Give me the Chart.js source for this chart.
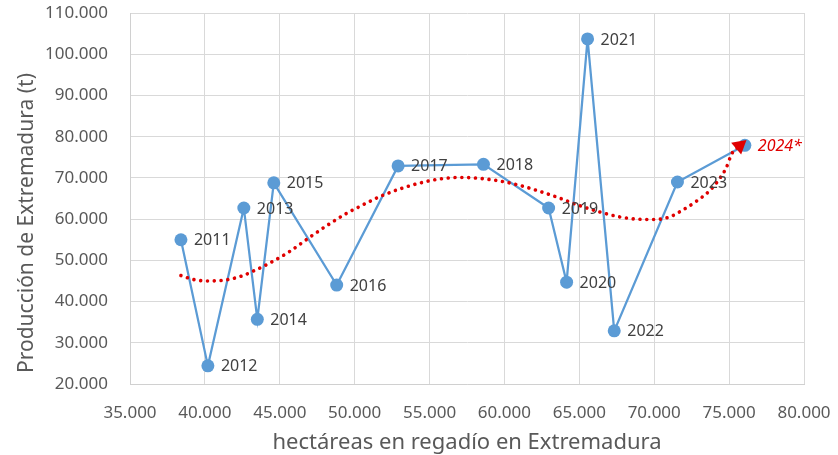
<!DOCTYPE html>
<html>
<head>
<meta charset="utf-8">
<script src="https://cdn.jsdelivr.net/npm/chart.js@4.4.1/dist/chart.umd.min.js"></script>
<style>
  html,body{margin:0;padding:0;background:#fff;}
  #wrap{width:838px;height:455px;}
</style>
</head>
<body>
<div id="wrap"><canvas id="chart" width="838" height="455"></canvas></div>
<script>
/* datos */
const years = ["2011","2012","2013","2014","2015","2016","2017","2018","2019","2020","2021","2022","2023","2024*"];
const hectareas = [38400,40200,42600,43500,44600,48800,52900,58600,62950,64150,65550,67330,71550,76050];
const produccion = [55000,24400,62700,35700,68800,44000,72900,73300,62700,44700,103700,32900,69000,77900];

/* línea de tendencia */
const tendX = [38400,39300,40300,41300,42300,43300,44300,45600,47000,48300,49600,50300,51700,53000,54300,55600,57000,58300,59600,61000,62300,63600,65000,66300,67600,68800,70000,71000,71900,72800,73700,74400,74800,75200,75700];
const tendY = [46300,45300,45000,45200,46000,47500,49300,52000,55600,58800,61700,63000,65500,67300,68700,69700,70100,69900,69300,68200,66800,65200,63300,61800,60600,60000,59900,60500,62200,64300,66900,70000,72400,76000,77800];

const xTicks = {min:35000, max:80000, step:5000};
const yTicks = {min:20000, max:110000, step:10000};

const tituloX = "hectáreas en regadío en Extremadura";
const tituloY = "Producción de Extremadura (t)";

const fmt = v => String(v).replace(/\B(?=(\d{3})+(?!\d))/g, ".");

const FONT = "'Noto Sans', 'Open Sans', sans-serif";
const GRIS = "#595959";

/* etiquetas de los puntos + título del eje Y */
const etiquetas = {
  id:"etiquetas",
  afterDatasetsDraw(chart){
    const meta = chart.getDatasetMeta(1);
    const c = chart.ctx;
    c.save();
    c.textBaseline = "middle";
    c.textAlign = "left";
    meta.data.forEach((p,i)=>{
      const ult = i===years.length-1;
      c.font = (ult ? "italic " : "") + "16px " + FONT;
      c.fillStyle = ult ? "#e00000" : "#404040";
      c.fillText(years[i], p.x+13, p.y+1);
    });
    c.restore();

    // título Y, empieza abajo como en Excel
    c.save();
    c.translate(27, 373);
    c.rotate(-Math.PI/2);
    c.font = "21px " + FONT;
    c.fillStyle = GRIS;
    c.textAlign = "left";
    c.textBaseline = "middle";
    c.fillText(tituloY, 0, 0);
    c.restore();
  }
};

const ultimo = tendX.length-1;

new Chart(document.getElementById("chart"),{
  type:"scatter",
  data:{
    datasets:[
      {
        label:"tendencia",
        data: tendX.map((x,i)=>({x, y:tendY[i]})),
        showLine:true,
        borderColor:"#e00000",
        borderWidth:3.6,
        borderDash:[0.01,6.8],
        borderCapStyle:"round",
        cubicInterpolationMode:"monotone",
        pointRadius: ctx => ctx.dataIndex===ultimo ? 9 : 0,
        pointStyle:"triangle",
        rotation:50,
        pointBackgroundColor:"#e00000",
        pointBorderColor:"#e00000",
        pointBorderWidth:0
      },
      {
        label:"producción",
        data: hectareas.map((x,i)=>({x, y:produccion[i]})),
        showLine:true,
        borderColor:"#5b9bd5",
        borderWidth:2.25,
        pointRadius:6.5,
        pointBackgroundColor:"#5b9bd5",
        pointBorderColor:"#5b9bd5",
        pointBorderWidth:0
      }
    ]
  },
  options:{
    responsive:false,
    animation:false,
    devicePixelRatio:1,
    layout:{padding:{top:13,right:34,left:0,bottom:0}},
    plugins:{legend:{display:false}, tooltip:{enabled:false}},
    scales:{
      x:{
        type:"linear",
        min:xTicks.min, max:xTicks.max,
        ticks:{stepSize:xTicks.step, callback:v=>fmt(v), color:GRIS, font:{family:FONT,size:17}, padding:19, maxRotation:0},
        grid:{color:"#d9d9d9", drawTicks:false},
        border:{color:"#d0d0d0"},
        title:{display:true, text:tituloX, color:GRIS, font:{family:FONT,size:22,lineHeight:1.1}, padding:{top:0,bottom:0}},
        afterFit(s){ s.height = 71; s.paddingLeft = 0; s.paddingRight = 0; }
      },
      y:{
        type:"linear",
        min:yTicks.min, max:yTicks.max,
        ticks:{stepSize:yTicks.step, callback:v=>fmt(v), color:GRIS, font:{family:FONT,size:17}, padding:22},
        grid:{color:"#d9d9d9", drawTicks:false},
        border:{color:"#d0d0d0"},
        afterFit(s){ s.width = 130; s.paddingTop = 0; s.paddingBottom = 0; }
      }
    }
  },
  plugins:[etiquetas]
});
</script>
</body>
</html>
